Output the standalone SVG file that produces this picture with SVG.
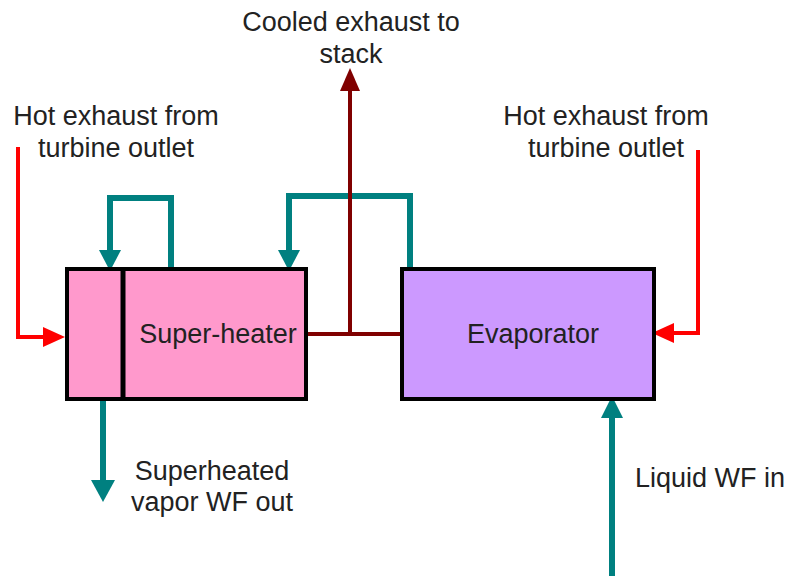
<svg xmlns="http://www.w3.org/2000/svg" width="788" height="579" viewBox="0 0 788 579">
<style>
text{font-family:"Liberation Sans",Arial,sans-serif;font-size:27px;fill:#222}
.box{stroke:#000;stroke-width:4}
.teal{fill:none;stroke:#008080;stroke-width:6;stroke-linejoin:miter}
.red{fill:none;stroke:#ff0000;stroke-width:4}
.maroon{fill:none;stroke:#800000;stroke-width:4}
.th{fill:#008080}.rh{fill:#ff0000}.mh{fill:#800000}
</style>
<rect width="788" height="579" fill="#fff"/>
<g id="connectors">
<polyline class="teal" points="110,252 110,198 171,198 171,269"/>
<polygon class="th" points="99,250 121,250 110,271"/>
<polyline class="teal" points="410,269 410,196 289,196 289,252"/>
<polygon class="th" points="278,250 300,250 289,271"/>
<polyline class="maroon" points="306,334 402,334"/>
<line class="maroon" x1="350" y1="334" x2="350" y2="88"/>
<polygon class="mh" points="340,91 360,91 350,68"/>
<polyline class="red" points="18,147 18,337 45,337"/>
<polygon class="rh" points="43,327 43,347 65,337"/>
<polyline class="red" points="698,150 698,333 672,333"/>
<polygon class="rh" points="674,323 674,343 652,333"/>
<line class="teal" x1="103" y1="399" x2="103" y2="482"/>
<polygon class="th" points="91,480 115,480 103,502"/>
<line class="teal" x1="612" y1="576" x2="612" y2="416"/>
<polygon class="th" points="601,418 623,418 612,396"/>
</g>
<g id="superheater">
<rect class="box" x="67" y="269" width="239" height="130" fill="#ff99cc"/>
<line x1="123" y1="269" x2="123" y2="399" stroke="#000" stroke-width="5"/>
<text x="218" y="343" text-anchor="middle">Super-heater</text>
</g>
<g id="evaporator">
<rect class="box" x="402" y="269" width="252" height="130" fill="#cc99ff"/>
<text x="533" y="343" text-anchor="middle">Evaporator</text>
</g>
<g id="labels">
<text x="351" y="31" text-anchor="middle">Cooled exhaust to</text>
<text x="351" y="63" text-anchor="middle">stack</text>
<text x="116" y="125" text-anchor="middle">Hot exhaust from</text>
<text x="116" y="157" text-anchor="middle">turbine outlet</text>
<text x="606" y="125" text-anchor="middle">Hot exhaust from</text>
<text x="606" y="157" text-anchor="middle">turbine outlet</text>
<text x="212" y="480" text-anchor="middle">Superheated</text>
<text x="212" y="511" text-anchor="middle">vapor WF out</text>
<text x="635" y="487">Liquid WF in</text>
</g>
</svg>
